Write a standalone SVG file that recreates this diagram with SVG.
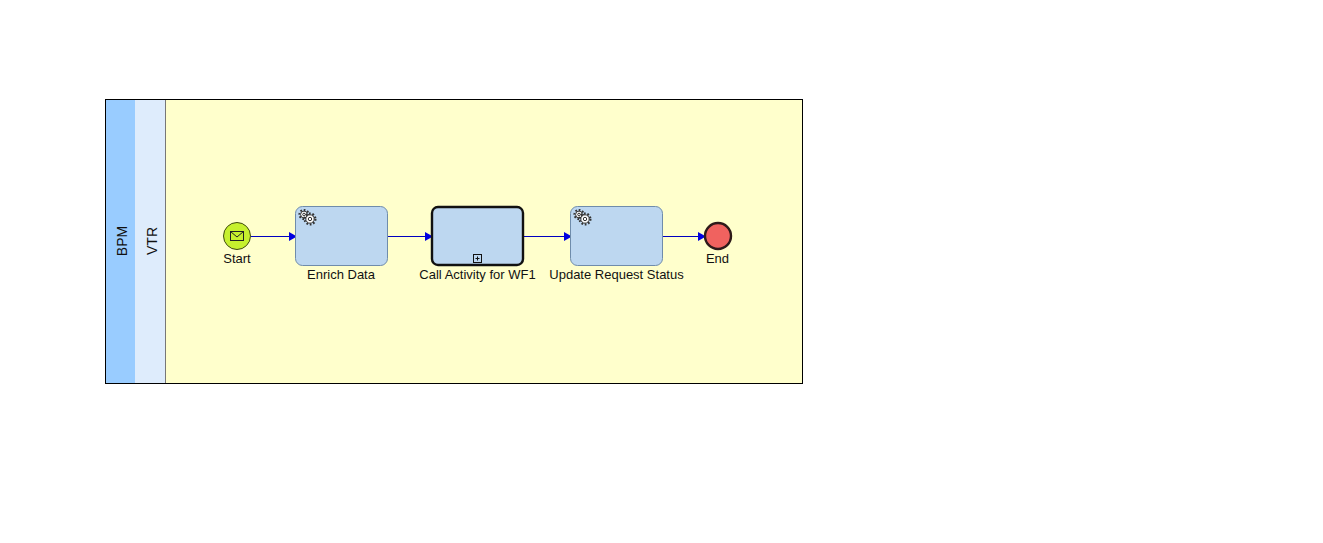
<svg xmlns="http://www.w3.org/2000/svg" width="1323" height="543" viewBox="0 0 1323 543">
<style>
text{font-family:"Liberation Sans",Arial,sans-serif;font-size:13px;fill:#111;text-anchor:middle}
.swim{font-size:14px}
.task{fill:#bdd7f0;stroke:#6f8cab;stroke-width:1}
.call{fill:#bdd7f0;stroke:#111;stroke-width:2.4}
.flow{fill:none;stroke:#0000c0;stroke-width:1.2;marker-end:url(#arrow)}
.gear{fill:#fff;stroke:#333;stroke-width:1}
.tooth{fill:none;stroke:#333;stroke-width:2.2;stroke-dasharray:1.7 1.7}
</style>
<defs>
<marker id="arrow" markerUnits="userSpaceOnUse" markerWidth="9" markerHeight="10" refX="8" refY="5" orient="auto"><path d="M0 0.5L8 5L0 9.500Z" fill="#0000e0"/></marker>
<g id="gears">
<circle cx="304" cy="214.500" r="4.500" class="tooth"/><circle cx="304" cy="214.500" r="3.400" class="gear"/><circle cx="304" cy="214.500" r="1.300" class="gear"/>
<circle cx="310" cy="219" r="5.400" class="tooth"/><circle cx="310" cy="219" r="4.200" class="gear"/><circle cx="310" cy="219" r="1.700" class="gear"/>
</g>
</defs>
<rect width="1323" height="543" fill="#fff"/>
<g id="pool">
<rect x="105.500" y="99.500" width="697" height="284" fill="#ffffcc"/>
<rect x="106" y="100" width="29" height="283" fill="#99ccff"/>
<rect x="135" y="100" width="30" height="283" fill="#deecfc"/>
<line x1="165.500" y1="100" x2="165.500" y2="383" stroke="#777" stroke-width="1"/>
<rect x="105.500" y="99.500" width="697" height="284" fill="none" stroke="#000" stroke-width="1"/>
<text class="swim" transform="translate(127,241) rotate(-90)">BPM</text>
<text class="swim" transform="translate(157,241) rotate(-90)">VTR</text>
</g>
<g id="connectors">
<path class="flow" d="M251 236.500H297"/>
<path class="flow" d="M388 236.500H433"/>
<path class="flow" d="M524 236.500H572"/>
<path class="flow" d="M663 236.500H706"/>
</g>
<g id="start">
<circle cx="237" cy="236" r="13.500" fill="#c6f02e" stroke="#3f4a10" stroke-width="1"/>
<rect x="230.500" y="231.500" width="13" height="9" fill="none" stroke="#222" stroke-width="1"/>
<path d="M230.500 231.500L237 237L243.500 231.500" fill="none" stroke="#222" stroke-width="1"/>
<text x="237" y="263">Start</text>
</g>
<g id="enrich">
<rect class="task" x="295.500" y="206.500" width="92" height="59" rx="7"/>
<use href="#gears"/>
<text x="341" y="279">Enrich Data</text>
</g>
<g id="call">
<rect class="call" x="432" y="207" width="91" height="58" rx="6"/>
<rect x="473.500" y="254.500" width="8" height="8" fill="none" stroke="#111" stroke-width="1"/>
<path d="M475.500 258.500h4M477.500 256.500v4" stroke="#111" stroke-width="1"/>
<text x="477.500" y="279">Call Activity for WF1</text>
</g>
<g id="update">
<rect class="task" x="570.500" y="206.500" width="92" height="59" rx="7"/>
<use href="#gears" x="275"/>
<text x="616.500" y="279">Update Request Status</text>
</g>
<g id="end">
<circle cx="718" cy="236" r="13" fill="#f0625f" stroke="#2e1a1a" stroke-width="2.400"/>
<text x="717.500" y="263">End</text>
</g>
</svg>
